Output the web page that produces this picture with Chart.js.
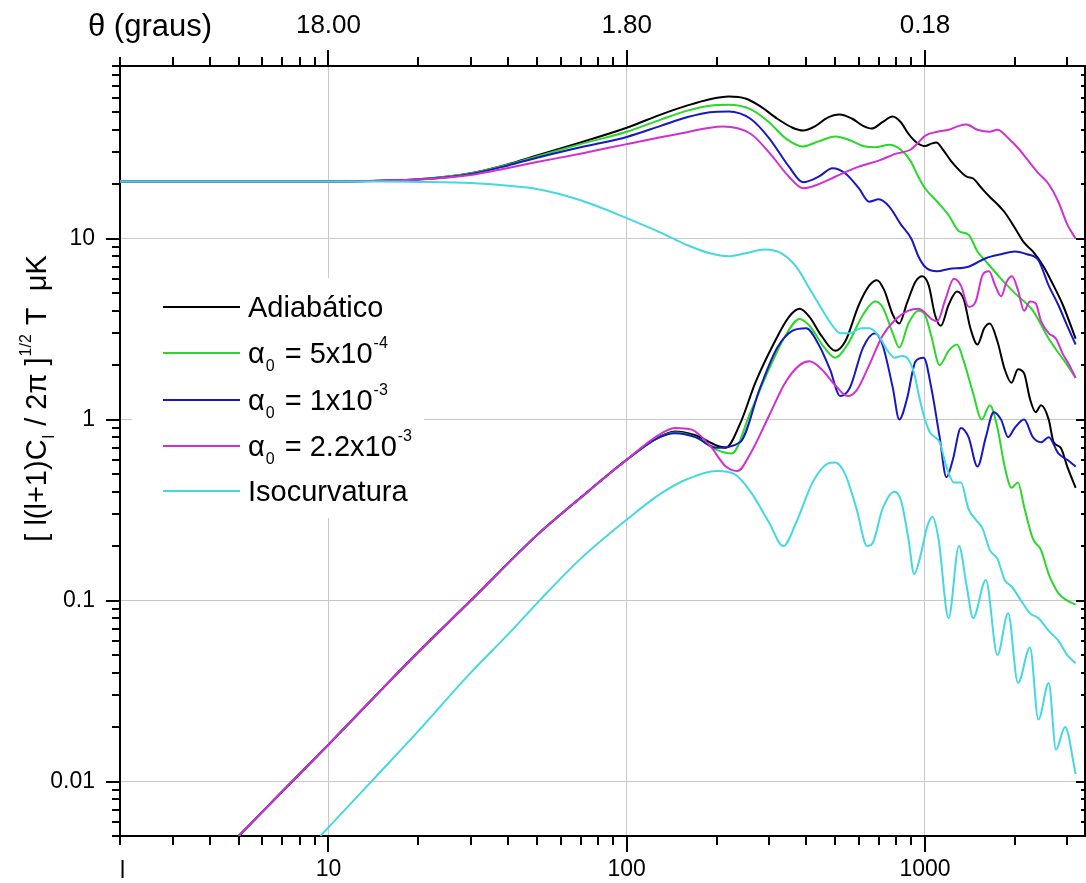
<!DOCTYPE html>
<html><head><meta charset="utf-8">
<script src="https://cdn.jsdelivr.net/npm/chart.js@4.4.1/dist/chart.umd.min.js"></script>
<style>html,body{margin:0;padding:0;background:#fff;}#wrap{width:1086px;height:883px;}</style>
</head><body><div id="wrap"><canvas id="c" width="1086" height="883"></canvas></div>
<script>
// ---------- data (multipole l, amplitude in microK) ----------
const adiabT_l = [2,5,10,15,20,30,40,50,70,100,130,160,190,220,250,280,320,360,390,430,470,517,570,620,662,720,778,830,880,937,1000,1050,1092,1150,1220,1300,1380,1450,1550,1650,1750,1850,2000,2150,2300,2500,2700,2900,3200];
const adiabT_v = [20.7,20.7,20.7,20.9,21.3,23,25.8,28.8,34,41,48.5,54.5,59,61,59.5,54,46,41,39.6,42,46.5,48.5,46,42,40.6,44,47.3,44,38,34,32.5,33.5,34,31,27,24,22,21.5,19,17,15.5,14,11.5,9.5,8.5,7,5.5,4.3,2.8];
const a5T_l = [2,5,10,15,20,30,40,50,70,100,130,160,190,220,260,300,340,389,440,500,560,620,680,760,830,893,950,1000,1100,1200,1300,1400,1500,1600,1800,2000,2300,2600,3000,3200];
const a5T_v = [20.7,20.7,20.7,20.9,21.3,23,25.7,28.5,33.3,39,45.5,51,54.3,55,52,44,36,32.3,34.5,36.7,35,32.5,32,33,31,27,22,19,16,13.5,11,10.5,8.5,7.5,6,5,4,2.8,2.0,1.7];
const a10T_l = [2,5,10,15,20,30,40,50,70,100,130,160,190,220,260,300,350,390,440,490,540,600,650,700,760,830,900,950,1000,1100,1200,1400,1600,1800,2000,2200,2400,2600,2800,3000,3200];
const a10T_v = [20.7,20.7,20.7,20.9,21.2,22.8,25.4,28,32,36.5,42,47,50,50.5,46,36,25,20.5,22,24.5,23,19,16,16.5,15,12,10,8,7,6.6,6.8,7,7.8,8.2,8.5,8.2,7.6,5.5,4.3,3.3,2.6];
const a22T_l = [2,5,10,15,20,30,40,50,70,100,150,210,260,300,350,390,440,500,600,700,800,893,950,1000,1100,1200,1300,1377,1500,1645,1750,1900,2075,2200,2400,2600,2800,3000,3200];
const a22T_v = [20.7,20.7,20.7,20.9,21.2,22.5,24.6,26.5,29.5,33.3,38,41.7,38,30,22,19,20,22,25,27,29.5,31,34,37,39,40,42,42.7,40,39,40,36,31,27.5,23,20,16,12,10];
const isoT_l = [2,5,10,15,20,30,40,50,70,100,130,160,190,220,250,290,330,370,410,450,490,520,560,610,650,700,750,790,840,880,920,960,1000,1040,1080,1120,1180,1250,1320,1400,1480,1560,1650,1750,1850,1950,2100,2250,2400,2600,2800,3000,3200];
const isoT_v = [20.7,20.7,20.7,20.7,20.6,20.3,19.6,18.8,16.3,13,10.8,9.2,8.3,8.0,8.3,8.7,8.3,7,5.3,4.1,3.3,3.0,3.0,3.2,3.2,2.9,2.4,2.2,2.25,2.15,1.8,1.3,1.0,0.85,0.8,0.75,0.55,0.45,0.45,0.32,0.28,0.25,0.19,0.17,0.13,0.12,0.1,0.085,0.08,0.068,0.06,0.05,0.045];

const adiabE_l = [5,7,10,15,20,30,50,70,100,125,145,170,200,215,240,270,310,350,380,410,450,500,540,600,650,690,730,780,820,870,930,980,1030,1080,1130,1200,1280,1350,1420,1500,1580,1650,1750,1850,1950,2050,2150,2250,2350,2450,2600,2700,2850,3000,3200];
const adiabE_v = [0.005,0.0088,0.016,0.032,0.052,0.1,0.23,0.37,0.6,0.78,0.86,0.82,0.72,0.7,0.95,1.6,2.6,3.7,4.1,3.7,2.9,2.4,2.7,4.3,5.5,5.9,5.2,3.8,3.4,4.4,5.8,6.2,5.5,3.8,3.3,4.3,5.1,4.6,3.2,2.6,3.2,3.4,2.7,1.9,1.6,1.9,1.8,1.3,1.1,1.2,1.0,0.75,0.7,0.55,0.42];
const a5E_l = [5,7,10,15,20,30,50,70,100,125,145,170,200,225,260,300,340,380,410,460,500,550,620,680,720,780,820,880,950,1000,1050,1120,1200,1280,1350,1450,1550,1650,1750,1850,1950,2050,2150,2300,2450,2600,2800,3000,3200];
const a5E_v = [0.005,0.0088,0.016,0.032,0.052,0.1,0.23,0.37,0.6,0.78,0.85,0.8,0.68,0.65,1.1,1.9,2.9,3.6,3.3,2.5,2.2,2.6,3.8,4.5,4.2,3.0,2.5,3.4,4.0,3.8,2.9,2.0,2.4,2.6,2.1,1.4,1.0,1.2,0.9,0.55,0.42,0.45,0.33,0.22,0.19,0.14,0.11,0.1,0.095];
const a10E_l = [5,7,10,15,20,30,50,70,100,125,145,170,200,240,280,320,360,400,440,480,520,560,620,680,720,780,820,870,930,990,1050,1120,1180,1240,1320,1400,1500,1600,1700,1800,1900,2000,2150,2300,2450,2600,2800,3000,3200];
const a10E_v = [0.005,0.0088,0.016,0.032,0.052,0.1,0.23,0.37,0.6,0.78,0.84,0.8,0.7,0.75,1.5,2.5,3.1,3.2,2.6,1.9,1.35,1.5,2.5,3.0,2.6,1.5,1.0,1.3,2.1,2.2,1.5,0.8,0.48,0.6,0.9,0.8,0.55,0.8,1.1,1.0,0.8,0.9,1.0,0.8,0.75,0.8,0.65,0.6,0.55];
const a22E_l = [5,7,10,15,20,30,50,70,100,125,145,165,190,215,235,260,300,340,380,410,450,500,550,590,650,720,800,880,950,1000,1050,1100,1170,1250,1320,1400,1480,1560,1640,1720,1800,1880,1960,2050,2150,2250,2350,2450,2600,2750,2900,3050,3200];
const a22E_v = [0.005,0.0088,0.016,0.032,0.052,0.1,0.23,0.37,0.6,0.8,0.9,0.88,0.72,0.55,0.52,0.65,1.05,1.6,2.0,2.1,1.9,1.55,1.35,1.45,2.0,2.9,3.6,4.0,4.1,3.9,3.6,3.5,4.6,6.0,5.5,4.2,4.5,6.3,6.6,5.5,4.8,5.8,6.2,5.2,4.0,4.5,4.4,3.5,3.0,2.8,2.3,2.0,1.7];
const isoE_l = [9.4,12,15,20,30,40,51,70,100,130,160,200,230,260,300,335,370,420,470,500,540,590,640,670,720,790,830,880,920,960,1020,1060,1110,1200,1300,1380,1450,1600,1750,1900,2050,2250,2400,2600,2750,2950,3200];
const isoE_v = [0.005,0.0077,0.0114,0.019,0.04,0.065,0.1,0.17,0.28,0.39,0.47,0.52,0.5,0.4,0.27,0.2,0.27,0.45,0.57,0.58,0.5,0.32,0.2,0.21,0.32,0.4,0.36,0.22,0.14,0.17,0.26,0.29,0.22,0.08,0.2,0.12,0.08,0.13,0.05,0.085,0.035,0.055,0.022,0.035,0.015,0.02,0.011];

const xMajor = [10,100,1000];
const yMajor = [0.01,0.1,1,10];
const legendLabels = ['Adiabático','α|0| = 5x10|-4','α|0| = 1x10|-3','α|0| = 2.2x10|-3','Isocurvatura'];

// ---------- styles ----------
const C_BLACK='#000000', C_GREEN='#2ad82a', C_BLUE='#1818c0', C_MAG='#d030d0', C_CYAN='#44d8e0';
const FONT='"Liberation Sans", Arial, Helvetica, sans-serif';
function pts(ls, vs){ return ls.map((l,i)=>({x:l,y:vs[i]})); }
function ds(ls,vs,color,order){ return {data:pts(ls,vs),borderColor:color,borderWidth:2,pointRadius:0,showLine:true,fill:false,cubicInterpolationMode:'monotone',order:order}; }

const datasets = [
  ds(isoT_l,isoT_v,C_CYAN,0), ds(isoE_l,isoE_v,C_CYAN,0),
  ds(a22T_l,a22T_v,C_MAG,1), ds(a22E_l,a22E_v,C_MAG,1),
  ds(a10T_l,a10T_v,C_BLUE,2), ds(a10E_l,a10E_v,C_BLUE,2),
  ds(a5T_l,a5T_v,C_GREEN,3), ds(a5E_l,a5E_v,C_GREEN,3),
  ds(adiabT_l,adiabT_v,C_BLACK,4), ds(adiabE_l,adiabE_v,C_BLACK,4)
];
const legendColors=[C_BLACK,C_GREEN,C_BLUE,C_MAG,C_CYAN];

function isDecade(v){ const l=Math.log10(v); return Math.abs(l-Math.round(l))<1e-9; }

const deco = {
  id:'deco',
  afterDraw(chart){
    const ctx=chart.ctx, xs=chart.scales.x, ys=chart.scales.y, a=chart.chartArea;
    ctx.save();
    ctx.strokeStyle='#000'; ctx.lineWidth=2; ctx.lineCap='butt';
    for(let d=1; d<=1000; d*=10) for(let m=1;m<10;m++){
      const v=m*d; if(v<2||v>xs.max) continue;
      const px=Math.round(xs.getPixelForValue(v));
      const maj=isDecade(v);
      ctx.beginPath(); ctx.moveTo(px,a.bottom); ctx.lineTo(px,a.bottom+(maj?16:9)); ctx.stroke();
      ctx.beginPath(); ctx.moveTo(px,a.top); ctx.lineTo(px,a.top-(maj?16:9)); ctx.stroke();
    }
    for(let d=0.001; d<=10.0001; d*=10) for(let m=1;m<10;m++){
      const v=+(m*d).toPrecision(6); if(v<ys.min-1e-12||v>ys.max+1e-9) continue;
      const py=Math.round(ys.getPixelForValue(v));
      const maj=isDecade(v);
      ctx.beginPath(); ctx.moveTo(a.left,py); ctx.lineTo(a.left-(maj?14:8),py); ctx.stroke();
      ctx.beginPath(); ctx.moveTo(a.right,py); ctx.lineTo(a.right-(maj?9:4),py); ctx.stroke();
    }
    ctx.fillStyle='#fff'; ctx.fillRect(132,278,292,240);
    const rows=[307,353,400,446,491];
    legendLabels.forEach((lab,i)=>{
      const y=rows[i];
      ctx.strokeStyle=legendColors[i]; ctx.lineWidth=2;
      ctx.beginPath(); ctx.moveTo(163,y); ctx.lineTo(240,y); ctx.stroke();
      ctx.fillStyle='#000'; ctx.textBaseline='alphabetic'; ctx.textAlign='left';
      const base=y+10;
      const parts=lab.split('|');
      let x=248;
      if(parts.length===1){ ctx.font='29px '+FONT; ctx.fillText(lab,x,base); }
      else {
        ctx.font='29px '+FONT; ctx.fillText(parts[0],x,base); x+=ctx.measureText(parts[0]).width+1;
        ctx.font='16px '+FONT; ctx.fillText(parts[1],x,base+8); x+=ctx.measureText(parts[1]).width+2;
        ctx.font='29px '+FONT; ctx.fillText(parts[2],x,base); x+=ctx.measureText(parts[2]).width+1;
        ctx.font='16px '+FONT; ctx.fillText(parts[3],x,base-15);
      }
    });
    ctx.fillStyle='#000'; ctx.font='31px '+FONT; ctx.textAlign='left'; ctx.textBaseline='middle';
    ctx.fillText('θ (graus)',88,27);
    ctx.font='23px '+FONT; ctx.textBaseline='middle';
    ctx.fillText('l',120,872);
    ctx.save();
    ctx.translate(46,398); ctx.rotate(-Math.PI/2);
    const segs=[['[ l(l+1)C',29,0],['l',16,8],[' / 2π ]',29,0],['1/2',16,-15],[' T  μK',29,0]];
    let tot=0; segs.forEach(s=>{ctx.font=s[1]+'px '+FONT; tot+=ctx.measureText(s[0]).width+1;});
    let x=-tot/2; ctx.textBaseline='alphabetic'; ctx.textAlign='left';
    segs.forEach(s=>{ctx.font=s[1]+'px '+FONT; ctx.fillText(s[0],x,s[2]); x+=ctx.measureText(s[0]).width+1;});
    ctx.restore();
    ctx.restore();
  }
};

new Chart(document.getElementById('c'),{
  type:'scatter',
  data:{datasets},
  options:{
    responsive:false, animation:false, devicePixelRatio:1,
    layout:{padding:0},
    plugins:{legend:{display:false},tooltip:{enabled:false}},
    scales:{
      x:{type:'logarithmic',position:'bottom',min:2,max:3440,
        afterBuildTicks:s=>{s.ticks=xMajor.map(v=>({value:v}));},
        afterFit:s=>{s.height=47;},
        grid:{color:'#c8c8c8',lineWidth:1,drawTicks:false},
        border:{display:true,color:'#000',width:2},
        ticks:{padding:20,color:'#000',font:{family:FONT,size:23},callback:v=>String(v),maxRotation:0,autoSkip:false}},
      x2:{type:'logarithmic',position:'top',min:2,max:3440,
        afterBuildTicks:s=>{s.ticks=xMajor.map(v=>({value:v}));},
        afterFit:s=>{s.height=66;},
        grid:{display:false,drawTicks:false},
        border:{display:true,color:'#000',width:2},
        ticks:{padding:25,color:'#000',font:{family:FONT,size:26},callback:v=>(180/v).toFixed(2),maxRotation:0,autoSkip:false}},
      y:{type:'logarithmic',position:'left',min:0.005,max:90,
        afterBuildTicks:s=>{s.ticks=yMajor.map(v=>({value:v}));},
        afterFit:s=>{s.width=120;},
        grid:{color:'#c8c8c8',lineWidth:1,drawTicks:false},
        border:{display:true,color:'#000',width:2},
        ticks:{padding:25,color:'#000',font:{family:FONT,size:23},callback:v=>String(v),autoSkip:false}},
      y2:{type:'logarithmic',position:'right',min:0.005,max:90,
        afterBuildTicks:s=>{s.ticks=yMajor.map(v=>({value:v}));},
        afterFit:s=>{s.width=1;},
        grid:{display:false,drawTicks:false},
        border:{display:true,color:'#000',width:2},
        ticks:{display:false}}
    }
  },
  plugins:[deco]
});
</script></body></html>
